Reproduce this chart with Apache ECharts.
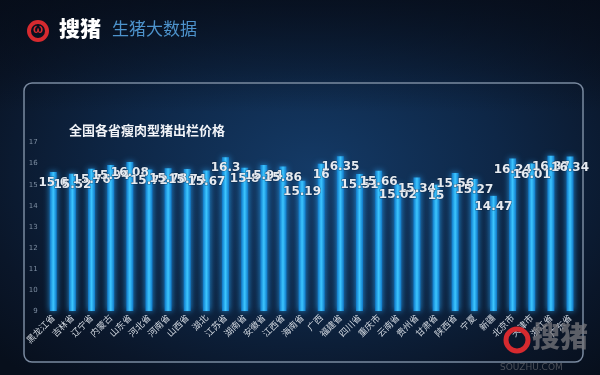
<!DOCTYPE html>
<html><head><meta charset="utf-8">
<script src="https://cdn.jsdelivr.net/npm/echarts@6/dist/echarts.min.js"></script>
<style>
html,body{margin:0;padding:0;width:600px;height:375px;overflow:hidden;}
body{background:
 linear-gradient(180deg, rgba(6,12,24,0.75) 0%, rgba(6,12,24,0.35) 18%, rgba(6,12,24,0) 30%),
 radial-gradient(ellipse 70% 75% at 52% 45%, #143a66 0%, #0e2747 45%, #0a1629 80%, #070f1c 100%);}
#c{width:600px;height:375px;}
</style></head>
<body><div id="c"></div>
<script>
const categories = ['黑龙江省','吉林省','辽宁省','内蒙古','山东省','河北省','河南省','山西省','湖北','江苏省','湖南省','安徽省','江西省','海南省','广西','福建省','四川省','重庆市','云南省','贵州省','甘肃省','陕西省','宁夏','新疆','北京市','天津市','浙江省','广东省'];
const prices = [15.6,15.52,15.76,15.94,16.08,15.72,15.78,15.74,15.67,16.3,15.8,15.94,15.86,15.19,16,16.35,15.51,15.66,15.02,15.34,15,15.56,15.27,14.47,16.24,16.01,16.37,16.34];
const yMin = 9, yMax = 17, yStep = 1;
const chartTitle = '全国各省瘦肉型猪出栏价格';
const brand = '搜猪';
const brandSub = '生猪大数据';

const chart = echarts.init(document.getElementById('c'));
chart.setOption({
  backgroundColor: 'transparent',
  title: {
    text: chartTitle, left: 64, top: 119,
    textStyle: {color: '#f2f4f8', fontSize: 13, fontWeight: 'bold', fontFamily: 'Noto Sans CJK SC'}
  },
  grid: {left: 43.7, right: 20.4, top: 142.6, bottom: 64, containLabel: false},
  xAxis: {
    type: 'category', data: categories,
    axisLine: {show: false}, axisTick: {show: false},
    axisLabel: {rotate: 45, interval: 0, fontSize: 9, color: '#d2d8e0', margin: 5, fontFamily: 'Noto Sans CJK SC'}
  },
  yAxis: {
    type: 'value', min: yMin, max: yMax, interval: yStep,
    splitLine: {show: false}, axisLine: {show: false}, axisTick: {show: false},
    axisLabel: {fontSize: 7, color: '#7f8fa3', margin: 6, fontFamily: 'DejaVu Sans'}
  },
  series: [{
    type: 'bar', data: prices, barWidth: 7,
    itemStyle: {
      color: new echarts.graphic.LinearGradient(0,0,1,0,[
        {offset:0,color:'#0f78c8'},{offset:0.5,color:'#3cc6ff'},{offset:1,color:'#0f78c8'}]),
      shadowColor: 'rgba(40,170,255,0.8)', shadowBlur: 6
    },
    label: {
      show: true, position: 'insideTop', distance: 5,
      color: '#e6ebf1', fontSize: 12, fontWeight: 'bold', fontFamily: 'DejaVu Sans',
      textBorderColor: 'rgba(10,25,45,0.5)', textBorderWidth: 1
    }
  }],
  graphic: [
    {type:'rect', shape:{x:24,y:83,width:559,height:279,r:8}, style:{fill:'none',stroke:'#7a8aa0',lineWidth:1.5}, z:-5},
    {type:'circle', shape:{cx:38,cy:31,r:9}, style:{fill:'none',stroke:'#d62a2f',lineWidth:4}},
    {type:'text', x:33, y:24, style:{text:'ω', fill:'#d62a2f', fontSize:12, fontWeight:'bold'}},
    {type:'text', x:59, y:18, style:{text:brand, fill:'#ffffff', fontSize:21, fontWeight:'900', fontFamily:'Noto Sans CJK SC'}},
    {type:'text', x:112, y:20, style:{text:brandSub, fill:'#4d93cc', fontSize:17, fontFamily:'Noto Sans CJK SC'}},
    {type:'circle', shape:{cx:517,cy:340,r:11}, style:{fill:'none',stroke:'#d62a2f',lineWidth:5}, z:10},
    {type:'text', x:532, y:322, style:{text:brand, fill:'rgba(120,120,125,0.75)', fontSize:28, fontWeight:'900', fontFamily:'Noto Sans CJK SC'}, z:10},
    {type:'text', x:500, y:363, style:{text:'SOUZHU.COM', fill:'rgba(120,120,125,0.6)', fontSize:9, fontFamily:'DejaVu Sans'}, z:10}
  ]
});
</script></body></html>
